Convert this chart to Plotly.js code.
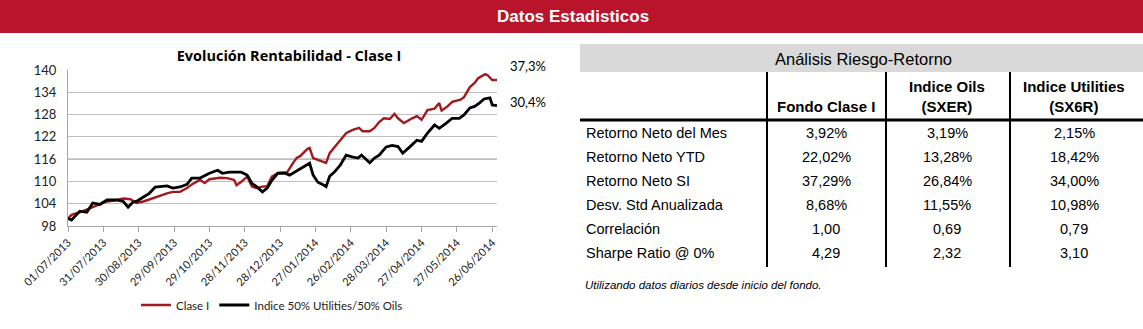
<!DOCTYPE html>
<html>
<head>
<meta charset="utf-8">
<script src="https://cdn.plot.ly/plotly-3.0.1.min.js"></script>
<style>
html,body{margin:0;padding:0;background:#fff;}
#chart{width:1143px;height:329px;}
</style>
</head>
<body>
<div id="chart"></div>
<script>
// ---------- DATA ----------
const fundDates = ['2013-07-01','2013-07-04','2013-07-11','2013-07-22','2013-07-28','2013-08-03','2013-08-11','2013-08-17','2013-08-23','2013-08-28','2013-09-03','2013-09-08','2013-09-14','2013-09-23','2013-09-28','2013-10-04','2013-10-10','2013-10-14','2013-10-21','2013-10-25','2013-10-29','2013-11-07','2013-11-13','2013-11-19','2013-11-21','2013-11-25','2013-11-30','2013-12-04','2013-12-08','2013-12-13','2013-12-17','2013-12-21','2013-12-26','2014-01-03','2014-01-08','2014-01-11','2014-01-14','2014-01-20','2014-01-22','2014-01-25','2014-01-29','2014-02-05','2014-02-08','2014-02-12','2014-02-17','2014-02-22','2014-02-27','2014-03-05','2014-03-08','2014-03-14','2014-03-18','2014-03-22','2014-03-26','2014-03-31','2014-04-04','2014-04-07','2014-04-12','2014-04-19','2014-04-23','2014-04-27','2014-05-02','2014-05-08','2014-05-12','2014-05-14','2014-05-19','2014-05-23','2014-05-30','2014-06-02','2014-06-07','2014-06-11','2014-06-14','2014-06-20','2014-06-22','2014-06-26','2014-06-28','2014-06-30'];
const fundValues = [100.0,101.0,101.7,103.1,103.8,104.6,105.0,105.4,105.2,104.2,104.6,105.2,105.9,106.8,107.2,107.2,108.2,109.2,110.4,109.6,110.6,111.0,110.9,110.4,109.0,109.9,111.3,108.6,108.2,108.6,108.7,111.3,112.2,112.5,115.0,116.3,116.8,118.7,119.0,116.3,115.8,115.0,117.6,119.3,121.1,123.0,123.8,124.4,123.5,123.5,124.4,126.0,127.0,126.8,128.2,127.0,125.7,127.0,127.6,126.6,129.2,129.6,131.1,129.1,130.2,131.4,132.0,132.7,135.4,136.5,137.8,138.9,138.6,137.3,137.4,137.3];

const indexDates = ['2013-07-01','2013-07-04','2013-07-11','2013-07-17','2013-07-22','2013-07-28','2013-08-03','2013-08-11','2013-08-17','2013-08-21','2013-08-25','2013-08-29','2013-09-03','2013-09-08','2013-09-13','2013-09-17','2013-09-23','2013-09-28','2013-10-04','2013-10-10','2013-10-14','2013-10-21','2013-10-25','2013-10-29','2013-11-05','2013-11-09','2013-11-15','2013-11-21','2013-11-25','2013-11-30','2013-12-04','2013-12-08','2013-12-13','2013-12-17','2013-12-21','2013-12-26','2014-01-01','2014-01-05','2014-01-11','2014-01-14','2014-01-20','2014-01-22','2014-01-25','2014-01-29','2014-02-02','2014-02-05','2014-02-08','2014-02-12','2014-02-17','2014-02-22','2014-02-27','2014-03-04','2014-03-07','2014-03-14','2014-03-18','2014-03-22','2014-03-28','2014-04-02','2014-04-07','2014-04-11','2014-04-17','2014-04-23','2014-04-27','2014-05-02','2014-05-08','2014-05-12','2014-05-18','2014-05-23','2014-05-29','2014-06-02','2014-06-07','2014-06-11','2014-06-15','2014-06-19','2014-06-24','2014-06-26','2014-06-30'];
const indexValues = [100.0,99.6,102.0,101.7,104.2,103.8,105.0,105.0,104.6,103.1,104.4,104.8,105.8,106.8,108.5,108.7,108.8,108.2,108.5,109.2,110.9,110.9,111.6,112.2,113.0,112.2,112.5,112.5,112.5,111.7,109.5,108.6,107.2,108.2,110.3,112.2,112.2,111.7,112.8,113.3,114.4,114.9,111.7,109.8,109.2,108.6,111.4,112.5,114.4,117.1,116.6,116.3,117.1,115.0,116.3,117.1,119.3,119.7,119.4,117.6,119.3,121.1,120.8,123.0,125.2,124.3,125.7,127.0,127.0,127.9,129.8,130.2,131.1,132.2,132.5,130.6,130.4];

const seriesNames = ['Clase I', 'Indice 50% Utilities/50% Oils'];
const endLabels = ['37,3%', '30,4%'];

const xTickDates = ['2013-07-01','2013-07-31','2013-08-30','2013-09-29','2013-10-29','2013-11-28','2013-12-28','2014-01-27','2014-02-26','2014-03-28','2014-04-27','2014-05-27','2014-06-26'];
const yTicks = [98,104,110,116,122,128,134,140];

const tableTitle = 'Análisis Riesgo-Retorno';
const colHeaders = ['Fondo Clase I', 'Indice Oils<br>(SXER)', 'Indice Utilities<br>(SX6R)'];
const rowLabels = ['Retorno Neto del Mes','Retorno Neto YTD','Retorno Neto SI','Desv. Std Anualizada','Correlación','Sharpe Ratio @ 0%'];
const fondoCol = ['3,92%','22,02%','37,29%','8,68%','1,00','4,29'];
const oilsCol = ['3,19%','13,28%','26,84%','11,55%','0,69','2,32'];
const utilCol = ['2,15%','18,42%','34,00%','10,98%','0,79','3,10'];
const footnote = 'Utilizando datos diarios desde inicio del fondo.';
const bannerTitle = 'Datos Estadisticos';

// ---------- LAYOUT HELPERS ----------
const W = 1143, H = 329;
const px = x => x / W;
const py = y => 1 - y / H;
const RED = '#a01a1e';
const NARROW = '"Liberation Sans", Arial, sans-serif';
const CHARTF = 'Lato, "Open Sans", sans-serif';

function fmtTick(d) {
  const p = d.split('-');
  return p[2] + '/' + p[1] + '/' + p[0];
}

const traces = [
  {x: fundDates, y: fundValues, type: 'scatter', mode: 'lines', name: seriesNames[0],
   line: {color: RED, width: 2.4}},
  {x: indexDates, y: indexValues, type: 'scatter', mode: 'lines', name: seriesNames[1],
   line: {color: '#000000', width: 2.8}}
];

const shapes = [];
const annotations = [];

// banner
shapes.push({type: 'rect', xref: 'paper', yref: 'paper', x0: 0, x1: 1, y0: py(33), y1: 1,
  fillcolor: '#b9142b', line: {width: 0}, layer: 'below'});
annotations.push({xref: 'paper', yref: 'paper', x: px(573), y: py(17), text: '<b>' + bannerTitle + '</b>',
  showarrow: false, xanchor: 'center', yanchor: 'middle',
  font: {family: NARROW, size: 17, color: '#ffffff'}});

// darker gridline at 116
shapes.push({type: 'line', xref: 'paper', yref: 'y', x0: px(68), x1: px(497), y0: 116, y1: 116,
  line: {color: '#7a7a7a', width: 1}, layer: 'below'});

// end labels
annotations.push({xref: 'paper', yref: 'y', x: px(508), y: fundValues[fundValues.length - 1], yshift: 14,
  text: endLabels[0], showarrow: false, xanchor: 'left', yanchor: 'middle',
  font: {family: CHARTF, size: 13, color: '#000'}});
annotations.push({xref: 'paper', yref: 'y', x: px(508), y: indexValues[indexValues.length - 1], yshift: 4,
  text: endLabels[1], showarrow: false, xanchor: 'left', yanchor: 'middle',
  font: {family: CHARTF, size: 13, color: '#000'}});

// table
const TL = 580, TR = 1143;
shapes.push({type: 'rect', xref: 'paper', yref: 'paper', x0: px(TL), x1: px(TR), y0: py(72), y1: py(44),
  fillcolor: '#d9d9d9', line: {width: 0}});
annotations.push({xref: 'paper', yref: 'paper', x: px(863), y: py(59), text: tableTitle,
  showarrow: false, xanchor: 'center', yanchor: 'middle',
  font: {family: NARROW, size: 16.5, color: '#000'}});
const vlines = [767, 886, 1010];
vlines.forEach(v => shapes.push({type: 'line', xref: 'paper', yref: 'paper', x0: px(v), x1: px(v),
  y0: py(72), y1: py(267), line: {color: '#000', width: 2}}));
shapes.push({type: 'line', xref: 'paper', yref: 'paper', x0: px(TL), x1: px(TR), y0: py(120), y1: py(120),
  line: {color: '#000', width: 3}});
const colCenters = [826, 947, 1074];
colHeaders.forEach((h, i) => annotations.push({xref: 'paper', yref: 'paper', x: px(colCenters[i]), y: py(117),
  text: '<b>' + h + '</b>', showarrow: false, xanchor: 'center', yanchor: 'bottom',
  font: {family: NARROW, size: 15, color: '#000'}}));
const rowY = [133, 157, 181, 205, 229, 253];
const cols = [fondoCol, oilsCol, utilCol];
rowLabels.forEach((r, i) => {
  annotations.push({xref: 'paper', yref: 'paper', x: px(584), y: py(rowY[i]), text: r,
    showarrow: false, xanchor: 'left', yanchor: 'middle',
    font: {family: NARROW, size: 14.5, color: '#000'}});
  cols.forEach((c, j) => annotations.push({xref: 'paper', yref: 'paper', x: px(colCenters[j]), y: py(rowY[i]),
    text: c[i], showarrow: false, xanchor: 'center', yanchor: 'middle',
    font: {family: NARROW, size: 14.5, color: '#000'}}));
});
annotations.push({xref: 'paper', yref: 'paper', x: px(583), y: py(285), text: '<i>' + footnote + '</i>',
  showarrow: false, xanchor: 'left', yanchor: 'middle',
  font: {family: NARROW, size: 11.5, color: '#000'}});

const layout = {
  width: W, height: H,
  margin: {l: 0, r: 0, t: 0, b: 0},
  paper_bgcolor: '#ffffff', plot_bgcolor: '#ffffff',
  showlegend: true,
  title: {text: '<b>Evolución Rentabilidad - Clase I</b>', xref: 'paper', yref: 'container',
    x: px(289), xanchor: 'center', y: py(56), yanchor: 'middle',
    font: {family: '"Open Sans", Lato, sans-serif', size: 14.5, color: '#000'}},
  xaxis: {
    type: 'date', domain: [px(68), px(497)],
    range: ['2013-07-01', '2014-06-30'],
    tickmode: 'array', tickvals: xTickDates, ticktext: xTickDates.map(fmtTick),
    tickangle: -45, tickfont: {family: CHARTF, size: 11, color: '#222'},
    showgrid: false, zeroline: false,
    showline: true, linecolor: '#a6a6a6', linewidth: 1,
    ticks: 'outside', ticklen: 5, tickcolor: '#a6a6a6'
  },
  yaxis: {
    domain: [py(226), py(70)],
    range: [98, 140],
    tickmode: 'array', tickvals: yTicks,
    tickfont: {family: CHARTF, size: 13, color: '#222'},
    ticklabelstandoff: 8,
    showgrid: true, gridcolor: '#bfbfbf', gridwidth: 1, zeroline: false,
    showline: true, linecolor: '#a6a6a6', linewidth: 1,
    ticks: ''
  },
  legend: {orientation: 'h', xref: 'paper', yref: 'paper', x: px(272), xanchor: 'center',
    y: py(305), yanchor: 'middle', font: {family: CHARTF, size: 11.5, color: '#222'},
    itemwidth: 30, tracegroupgap: 0, bgcolor: 'rgba(0,0,0,0)'},
  shapes: shapes,
  annotations: annotations
};

Plotly.newPlot('chart', traces, layout, {displayModeBar: false, staticPlot: true});
</script>
</body>
</html>
